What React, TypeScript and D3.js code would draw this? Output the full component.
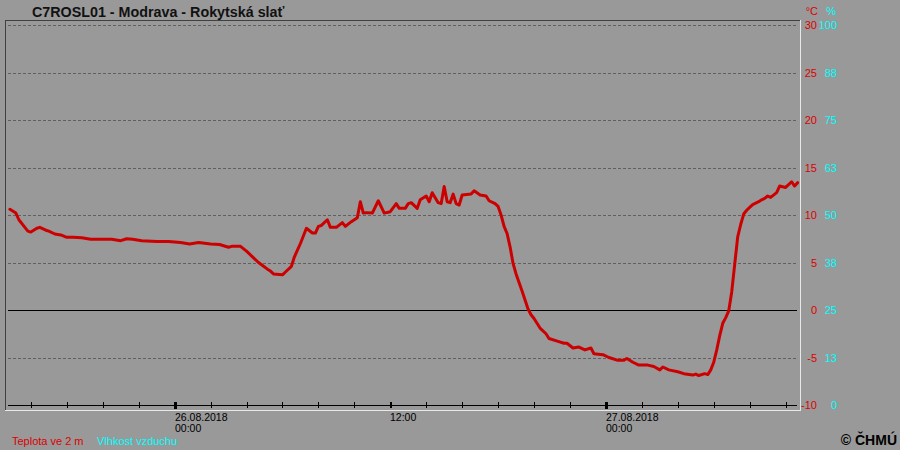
import React from "react";
import * as d3 from "d3";

// Data: 10-minute steps relative to 26.08.2018 00:00, temperature at 2 m (°C)
const stepIdx = [
  -55, -53, -52, -50, -49, -48, -46, -45, -43, -42, -40, -38, -36, -34, -31, -28, -25, -21, -18, -16, -14, -11, -6, -2,
  2, 5, 8, 12, 15, 18, 19, 22, 24, 26, 28, 31, 32, 33, 36, 37, 39, 40, 41, 42, 44, 46, 47, 48, 49, 51, 52, 54, 56, 57,
  59, 61, 62, 63, 64, 66, 68, 70, 72, 74, 75, 77, 78, 79, 81, 82, 84, 85, 86, 88, 89, 90, 91, 92, 93, 94, 95, 96, 99,
  100, 102, 104, 105, 107, 108, 109, 110, 111, 112, 113, 114, 115, 116, 117, 118, 119, 120, 122, 124, 125, 128, 130,
  131, 133, 135, 137, 139, 140, 143, 145, 148, 150, 151, 153, 155, 158, 160, 162, 163, 165, 168, 170, 173, 174, 175,
  177, 178, 179, 180, 181, 182, 183, 184, 185, 186, 187, 188, 189, 190, 191, 192, 193, 195, 196, 197, 198, 199, 201,
  202, 204, 206, 207, 208,
];
const tempC = [
  10.6, 10.2, 9.5, 8.7, 8.3, 8.2, 8.6, 8.7, 8.4, 8.3, 8.0, 7.9, 7.65, 7.65, 7.6, 7.45, 7.45, 7.45, 7.3, 7.5, 7.45, 7.3, 7.2, 7.2,
  7.1, 6.95, 7.1, 6.95, 6.9, 6.6, 6.7, 6.7, 6.2, 5.6, 5.0, 4.3, 4.1, 3.8, 3.7, 4.0, 4.6, 5.6, 6.3, 7.0, 8.6, 8.1, 8.1, 8.8, 8.9, 9.5, 8.7, 8.7, 9.2, 8.8,
  9.3, 9.7, 11.4, 10.2, 10.25, 10.2, 11.5, 10.2, 10.35, 11.2, 10.7, 10.7, 11.2, 11.3, 10.7, 11.6, 12.0, 11.4, 12.35, 11.3, 11.2, 13.0, 11.4, 11.3, 12.2, 11.2, 11.05, 12.1, 12.2,
  12.55, 12.1, 12.0, 11.5, 11.2, 10.9, 10.0, 8.8, 8.05, 6.65, 4.9, 3.8, 2.9, 2.0, 1.05, 0.1, -0.5, -0.9, -1.9, -2.5, -3.0, -3.3, -3.5,
  -3.5, -4.0, -3.9, -4.2, -4.0, -4.6, -4.7, -5.0, -5.3, -5.3, -5.1, -5.5, -5.8, -5.8, -5.95, -6.3, -6.0, -6.3, -6.5, -6.7, -6.85, -6.75, -6.9,
  -6.7, -6.8, -6.3, -5.5, -4.2, -2.7, -1.4, -0.8, -0.1, 1.9, 4.8, 7.7, 9.0, 10.1, 10.5, 10.8, 11.1, 11.4, 11.6, 11.75, 12.0, 11.85, 12.35,
  13.05, 12.9, 13.5, 13.05, 13.4,
];

const tempTicks = [30, 25, 20, 15, 10, 5, 0, -5, -10];
const humTicks = ["100", "88", "75", "63", "50", "38", "25", "13", "0"];
const title = "C7ROSL01 - Modrava - Rokytská slať";
const legendTemp = "Teplota ve 2 m";
const legendHum = "Vlhkost vzduchu";
const copyright = "© ČHMÚ";

const W = 900;
const H = 450;
const domainStart = new Date(2018, 7, 26, 0, -563);
const domainEnd = new Date(2018, 7, 26, 0, 2088);

export default function App() {
  const x = d3.scaleTime().domain([domainStart, domainEnd]).range([6, 800]);
  const y = d3.scaleLinear().domain([-10, 30]).range([405, 25]);
  const data = stepIdx.map((s, i) => ({ t: new Date(2018, 7, 26, 0, s * 10), v: tempC[i] }));
  const line = d3
    .line<{ t: Date; v: number }>()
    .x((d) => x(d.t))
    .y((d) => y(d.v))
    .curve(d3.curveLinear);

  const ticks = d3.timeHour.every(2)!.range(new Date(2018, 7, 25, 16), domainEnd);
  const font = "'Liberation Sans', Arial, sans-serif";
  const fmtDate = d3.timeFormat("%d.%m.%Y");
  const fmtTime = d3.timeFormat("%H:%M");

  return (
    <svg
      width={W}
      height={H}
      style={{ position: "absolute", left: 0, top: 0, display: "block" }}
      fontFamily={font}
    >
      <rect x={0} y={0} width={W} height={H} fill="#999999" />
      {/* title */}
      <text x={32} y={17} fontSize={14.3} fontWeight="bold" fill="#111">
        {title}
      </text>
      {/* grid */}
      {tempTicks.map((t) =>
        t === -10 ? null : t === 0 ? (
          <line key={t} x1={8} x2={797} y1={y(t) + 0.5} y2={y(t) + 0.5} stroke="#000" strokeWidth={1} shapeRendering="crispEdges" />
        ) : (
          <line
            key={t}
            x1={8}
            x2={797}
            y1={y(t) + 0.5}
            y2={y(t) + 0.5}
            stroke="#606060"
            strokeWidth={1}
            strokeDasharray="3,2"
            shapeRendering="crispEdges"
          />
        )
      )}
      {/* x axis */}
      <line x1={8} x2={797} y1={y(-10) + 0.5} y2={y(-10) + 0.5} stroke="#000" strokeWidth={1} shapeRendering="crispEdges" />
      {ticks.map((t) => {
        const isDay = t.getHours() === 0;
        const isNoon = t.getHours() === 12;
        const xx = Math.round(x(t));
        return (
          <g key={t.getTime()}>
            <line
              x1={xx + 0.5}
              x2={xx + 0.5}
              y1={402}
              y2={isDay ? 409 : 408}
              stroke="#000"
              strokeWidth={isDay ? 3 : isNoon ? 2 : 1}
              shapeRendering="crispEdges"
            />
            {isDay && (
              <>
                <text x={xx} y={421} fontSize={10.5} fill="#000">
                  {fmtDate(t)}
                </text>
                <text x={xx} y={432} fontSize={10.5} fill="#000">
                  {fmtTime(t)}
                </text>
              </>
            )}
            {isNoon && (
              <text x={xx} y={421} fontSize={10.5} fill="#000">
                {fmtTime(t)}
              </text>
            )}
          </g>
        );
      })}
      {/* frame */}
      <line x1={5} x2={800} y1={20.5} y2={20.5} stroke="#404040" strokeWidth={1} shapeRendering="crispEdges" />
      <line x1={5.5} x2={5.5} y1={20} y2={410} stroke="#404040" strokeWidth={1} shapeRendering="crispEdges" />
      <line x1={800.5} x2={800.5} y1={20} y2={411} stroke="#e8e8e8" strokeWidth={1} shapeRendering="crispEdges" />
      <line x1={5} x2={801} y1={410.5} y2={410.5} stroke="#e8e8e8" strokeWidth={1} shapeRendering="crispEdges" />
      {/* temperature line */}
      <path d={line(data) || ""} fill="none" stroke="#cc0000" strokeWidth={3} strokeLinejoin="round" strokeLinecap="round" />
      {/* right axis labels */}
      <text x={818} y={15} fontSize={11} fill="#dd0000" textAnchor="end">
        °C
      </text>
      <text x={836} y={15} fontSize={11} fill="#00ffff" textAnchor="end">
        %
      </text>
      {tempTicks.map((t, i) => (
        <g key={"lab" + t}>
          <text x={817} y={y(t) + 4} fontSize={11} fill="#dd0000" textAnchor="end">
            {t}
          </text>
          <text x={837} y={y(t) + 4} fontSize={11} fill="#00ffff" textAnchor="end">
            {humTicks[i]}
          </text>
        </g>
      ))}
      {/* legend */}
      <text x={12} y={445} fontSize={11} fill="#dd0000">
        {legendTemp}
      </text>
      <text x={97} y={445} fontSize={11} fill="#00ffff">
        {legendHum}
      </text>
      <text x={897} y={445} fontSize={14} fontWeight="bold" fill="#000" textAnchor="end">
        {copyright}
      </text>
    </svg>
  );
}
